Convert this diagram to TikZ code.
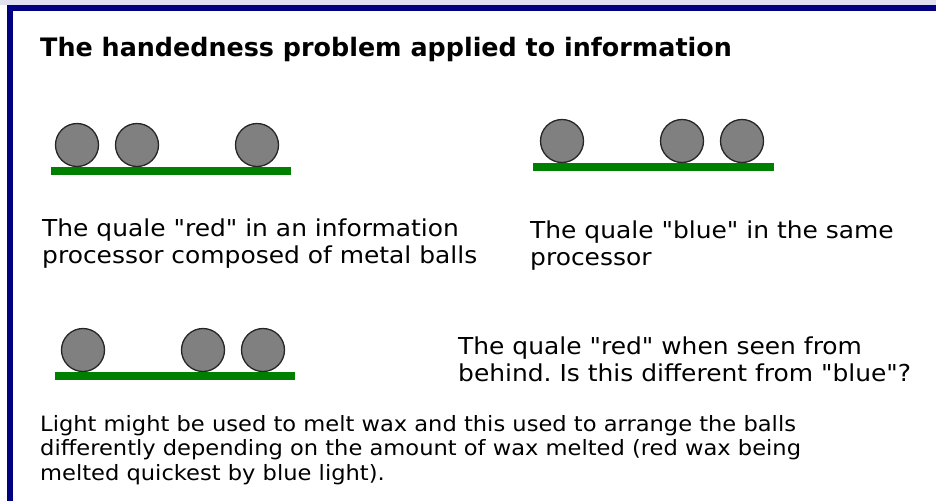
\documentclass[tikz,border=0pt]{standalone}
\usepackage{fontspec}
\setmainfont{DejaVu Sans}
\newfontfamily\capfont[FakeStretch=1.07]{DejaVu Sans}
\definecolor{frame}{RGB}{0,0,128}
\definecolor{haze}{RGB}{224,224,240}
\definecolor{rail}{RGB}{0,128,0}
\definecolor{ballgray}{RGB}{128,128,128}
\frenchspacing

\begin{document}
\begin{tikzpicture}[x=1pt, y=-1pt,
    ball/.style={circle, fill=ballgray, draw=black!85, line width=1.3pt,
      minimum size=43pt, inner sep=0pt},
    caption/.style={anchor=north west, inner sep=0pt, align=left,
      font=\capfont\fontsize{23.3}{27}\selectfont},
    note/.style={anchor=north west, inner sep=0pt, align=left,
      font=\capfont\fontsize{21.1}{24.5}\selectfont}]
  \useasboundingbox (0,0) rectangle (936,501);
  % page frame
  \fill[haze] (0,0) rectangle (936,5);
  \fill[frame] (7,5) rectangle (936,11);
  \fill[frame] (7,5) rectangle (13,501);

  \node[anchor=base west, inner sep=0pt, font=\bfseries\fontsize{25.4}{30}\selectfont]
    (title) at (40,56) {The handedness problem applied to information};

  % rails
  \fill[rail] (51,167) rectangle (291,175);
  \fill[rail] (533,163) rectangle (774,171);
  \fill[rail] (55,372) rectangle (295,380);

  % balls
  \foreach \x/\n in {77/1, 137/2, 257/3}
    \node[ball] (red\n) at (\x,145) {};
  \foreach \x/\n in {562/1, 682/2, 742/3}
    \node[ball] (blue\n) at (\x,141) {};
  \foreach \x/\n in {83/1, 203/2, 263/3}
    \node[ball] (back\n) at (\x,350) {};

  \node[caption] (redtxt) at (42,219)
    {The quale "red" in an information\\processor composed of metal balls};
  \node[caption] (bluetxt) at (530,221)
    {The quale "blue" in the same\\processor};
  \node[caption] (backtxt) at (458,337)
    {The quale "red" when seen from\\behind. Is this different from "blue"?};
  \node[note] (wax) at (40,415)
    {Light might be used to melt wax and this used to arrange the balls\\
     differently depending on the amount of wax melted (red wax being\\
     melted quickest by blue light).};
\end{tikzpicture}
\end{document}
